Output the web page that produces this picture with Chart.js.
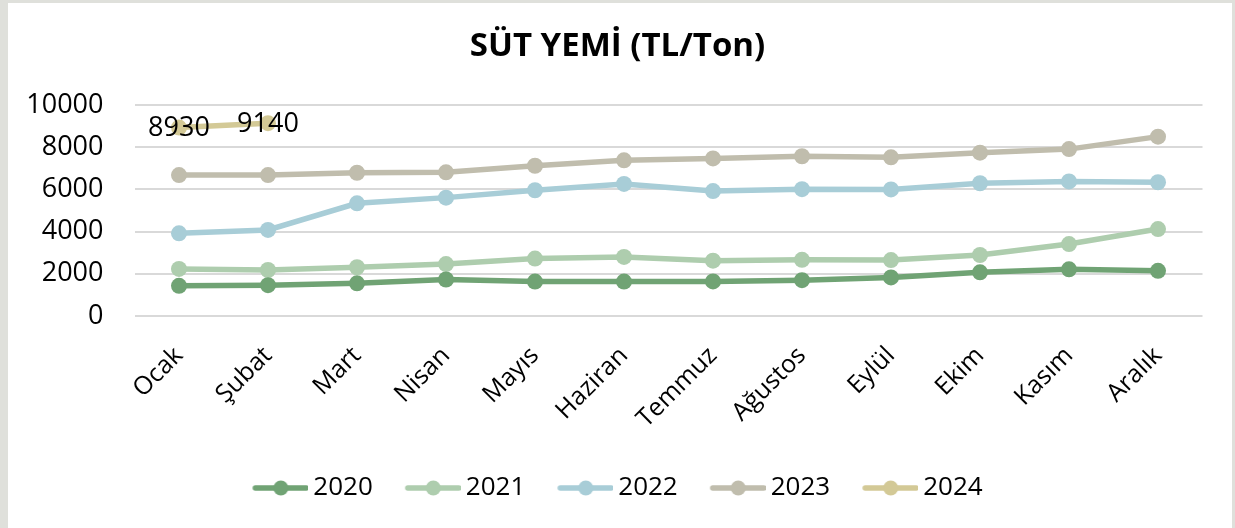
<!DOCTYPE html>
<html lang="tr">
<head>
<meta charset="utf-8">
<title>SÜT YEMİ (TL/Ton)</title>
<script src="https://cdn.jsdelivr.net/npm/chart.js@4/dist/chart.umd.min.js"></script>
<style>
  html, body { margin: 0; padding: 0; width: 1235px; height: 528px; overflow: hidden; background: #dfe0db; }
  #card { position: absolute; left: 8px; top: 3px; width: 1224px; height: 525px; background: #ffffff; }
  #wrap { position: absolute; left: 0; top: 0; width: 1235px; height: 528px; }
</style>
</head>
<body>
<div id="card"></div>
<div id="wrap"><canvas id="chart" width="1235" height="528"></canvas></div>
<script>
// Months of the year
const months = ['Ocak', 'Şubat', 'Mart', 'Nisan', 'Mayıs', 'Haziran', 'Temmuz', 'Ağustos', 'Eylül', 'Ekim', 'Kasım', 'Aralık'];

// Dairy feed price, TL per ton, by year
const y2020 = [1430, 1460, 1550, 1730, 1630, 1630, 1640, 1700, 1830, 2070, 2210, 2140];
const y2021 = [2230, 2180, 2310, 2460, 2720, 2800, 2620, 2660, 2650, 2890, 3410, 4120];
const y2022 = [3920, 4080, 5340, 5610, 5960, 6260, 5920, 6010, 6000, 6290, 6380, 6340];
const y2023 = [6680, 6680, 6790, 6810, 7120, 7380, 7470, 7570, 7520, 7740, 7910, 8500];
const y2024 = [8930, 9140, null, null, null, null, null, null, null, null, null, null];

const yearLabels = ['2020', '2021', '2022', '2023', '2024'];
const yTicks = [0, 2000, 4000, 6000, 8000, 10000];

const colors = ['#70a374', '#aecdae', '#a8cdd7', '#c0bdad', '#d3c996'];
const FONT = "'Open Sans', 'Noto Sans', sans-serif";

// Legend swatch: a short line with a dot in the middle
function swatch(color) {
  const c = document.createElement('canvas');
  c.width = 64; c.height = 18;
  const g = c.getContext('2d');
  g.strokeStyle = color;
  g.lineWidth = 5.5;
  g.lineCap = 'round';
  g.beginPath();
  g.moveTo(11, 9); g.lineTo(62, 9);
  g.stroke();
  g.fillStyle = color;
  g.beginPath();
  g.arc(36.5, 9, 7.5, 0, Math.PI * 2);
  g.fill();
  return c;
}

// Value labels for the 2024 series, centred on each point
const valueLabels = {
  id: 'valueLabels',
  afterDatasetsDraw(chart) {
    const idx = 4;
    const meta = chart.getDatasetMeta(idx);
    const data = chart.data.datasets[idx].data;
    const ctx = chart.ctx;
    ctx.save();
    ctx.font = "27px " + FONT;
    ctx.fillStyle = '#000000';
    ctx.textAlign = 'center';
    ctx.textBaseline = 'middle';
    meta.data.forEach((pt, i) => {
      if (data[i] == null) return;
      ctx.fillText(String(data[i]), pt.x, pt.y + 1);
    });
    ctx.restore();
  }
};

const series = [y2020, y2021, y2022, y2023, y2024];
const datasets = series.map((vals, i) => ({
  label: yearLabels[i],
  data: vals,
  borderColor: colors[i],
  backgroundColor: colors[i],
  pointBackgroundColor: colors[i],
  pointBorderWidth: 0,
  pointRadius: 8,
  pointHoverRadius: 8,
  borderWidth: 5.5,
  tension: 0,
  spanGaps: false,
  pointStyle: 'circle'
}));

new Chart(document.getElementById('chart'), {
  type: 'line',
  data: { labels: months, datasets },
  plugins: [valueLabels],
  options: {
    responsive: false,
    animation: false,
    events: [],
    layout: { padding: { left: 0, right: 0, top: 0, bottom: 17 } },
    plugins: {
      title: {
        display: true,
        text: 'SÜT YEMİ (TL/Ton)',
        color: '#000000',
        font: { family: FONT, size: 33, weight: 'bold' },
        padding: { top: 27, bottom: 38.4 }
      },
      legend: {
        position: 'bottom',
        labels: {
          color: '#000000',
          font: { family: FONT, size: 26 },
          usePointStyle: true,
          pointStyleWidth: 48,
          padding: 32,
          generateLabels(chart) {
            return chart.data.datasets.map((ds, i) => ({
              text: ds.label,
              pointStyle: swatch(colors[i]),
              fillStyle: colors[i],
              strokeStyle: colors[i],
              lineWidth: 0,
              hidden: false,
              datasetIndex: i
            }));
          }
        }
      },
      tooltip: { enabled: false }
    },
    scales: {
      x: {
        offset: true,
        grid: { display: false },
        border: { display: false },
        afterFit(scale) { scale.height = 127; },
        ticks: {
          color: '#000000',
          font: { family: FONT, size: 25 },
          minRotation: 45,
          maxRotation: 45,
          padding: 17,
          autoSkip: false
        }
      },
      y: {
        min: 0,
        max: 10000,
        afterFit(scale) { scale.width = 134.5; },
        afterBuildTicks(scale) { scale.ticks = yTicks.map(v => ({ value: v })); },
        grid: { color: '#d9d9d9', lineWidth: 2, drawTicks: false },
        border: { display: false },
        ticks: {
          color: '#000000',
          font: { family: FONT, size: 27 },
          padding: 31,
          callback: v => String(v)
        }
      },
      // empty right-hand margin so the plot ends where the frame's inner area ends
      yRight: {
        position: 'right',
        display: true,
        min: 0,
        max: 10000,
        afterFit(scale) { scale.width = 32.5; },
        grid: { display: false, drawTicks: false },
        border: { display: false },
        ticks: { display: false }
      }
    }
  }
});
</script>
</body>
</html>
